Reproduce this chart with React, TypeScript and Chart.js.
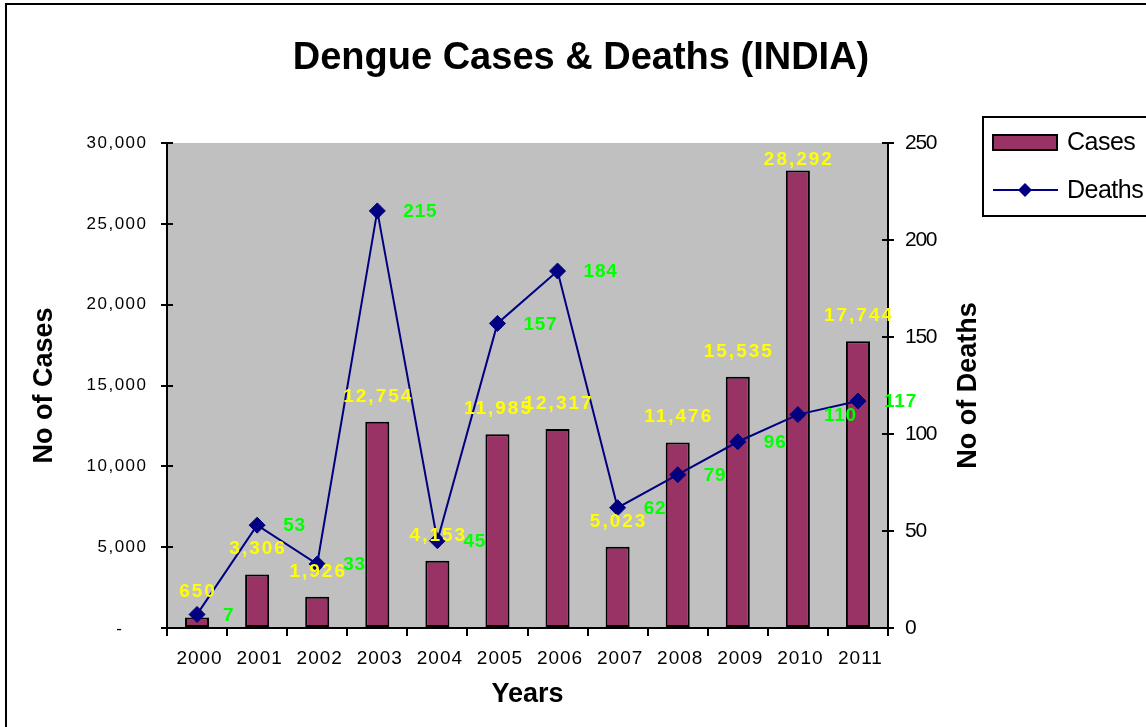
import React, { useEffect, useRef } from 'react';
import { Chart, registerables } from 'chart.js';

Chart.register(...registerables);

const years = ['2000', '2001', '2002', '2003', '2004', '2005', '2006', '2007', '2008', '2009', '2010', '2011'];
const cases = [650, 3306, 1926, 12754, 4153, 11985, 12317, 5023, 11476, 15535, 28292, 17744];
const deaths = [7, 53, 33, 215, 45, 157, 184, 62, 79, 96, 110, 117];

const casesAxis = { min: 0, max: 30000, step: 5000 };
const deathsAxis = { min: 0, max: 250, step: 50 };

const SANS = "'Liberation Sans', Arial, sans-serif";

const BAR_COLOR = '#993366';
const LINE_COLOR = '#000080';
const PLOT_BG = '#C0C0C0';

function drawText(
  ctx: CanvasRenderingContext2D,
  text: string,
  x: number,
  y: number,
  font: string,
  color: string,
  align: CanvasTextAlign,
  spacing = 0,
  baseline: CanvasTextBaseline = 'middle'
) {
  ctx.save();
  ctx.font = font;
  ctx.fillStyle = color;
  ctx.textAlign = align;
  ctx.textBaseline = baseline;
  (ctx as any).letterSpacing = spacing + 'px';
  let dx = 0;
  if (align === 'right') dx = spacing;
  else if (align === 'center') dx = spacing / 2;
  ctx.fillText(text, x + dx, y);
  ctx.restore();
}

function diamond(ctx: CanvasRenderingContext2D, x: number, y: number, r: number, color: string) {
  ctx.save();
  ctx.fillStyle = color;
  ctx.beginPath();
  ctx.moveTo(x, y - r);
  ctx.lineTo(x + r, y);
  ctx.lineTo(x, y + r);
  ctx.lineTo(x - r, y);
  ctx.closePath();
  ctx.fill();
  ctx.restore();
}

const backgroundPlugin = {
  id: 'plotBackground',
  beforeDraw(chart: any) {
    const { ctx, chartArea, width, height } = chart;
    ctx.save();
    ctx.fillStyle = '#ffffff';
    ctx.fillRect(0, 0, width, height);
    ctx.fillStyle = PLOT_BG;
    ctx.fillRect(chartArea.left, chartArea.top, chartArea.right - chartArea.left, chartArea.bottom - chartArea.top);
    ctx.restore();
  },
};

const fmt = (v: number) => v.toLocaleString('en-US');

const textPlugin = {
  id: 'customText',
  afterDraw(chart: any) {
    const { ctx, chartArea, scales } = chart;
    const ys = scales.y;
    const y1 = scales.y1;
    const xs = scales.x;

    // inner halves of the crossing tick marks
    ctx.save();
    ctx.strokeStyle = '#000';
    ctx.lineWidth = 2;
    ys.ticks.forEach((_t: any, i: number) => {
      const py = Math.round(ys.getPixelForTick(i));
      ctx.beginPath();
      ctx.moveTo(chartArea.left, py);
      ctx.lineTo(chartArea.left + 6, py);
      ctx.stroke();
    });
    y1.ticks.forEach((_t: any, i: number) => {
      const py = Math.round(y1.getPixelForTick(i));
      ctx.beginPath();
      ctx.moveTo(chartArea.right - 6, py);
      ctx.lineTo(chartArea.right, py);
      ctx.stroke();
    });
    ctx.restore();

    // left tick labels
    ys.ticks.forEach((t: any, i: number) => {
      const py = ys.getPixelForTick(i);
      if (t.value === 0) {
        drawText(ctx, '-', chartArea.left - 45, py + 1, `17px ${SANS}`, '#000', 'right', 1.5);
      } else {
        drawText(ctx, fmt(t.value), chartArea.left - 21, py, `17px ${SANS}`, '#000', 'right', 1.5);
      }
    });
    // right tick labels
    y1.ticks.forEach((t: any, i: number) => {
      const py = y1.getPixelForTick(i);
      drawText(ctx, String(t.value), chartArea.right + 17, py, `21px ${SANS}`, '#000', 'left', -1.3);
    });
    // bottom tick labels
    xs.ticks.forEach((t: any, i: number) => {
      const px = xs.getPixelForTick(i);
      drawText(ctx, String(xs.getLabelForValue(t.value)), px + 2, chartArea.bottom + 31, `19px ${SANS}`, '#000', 'center', 1);
    });

    // right axis title (reads bottom to top)
    ctx.save();
    ctx.translate(969, (chartArea.top + chartArea.bottom) / 2);
    ctx.rotate(-Math.PI / 2);
    drawText(ctx, 'No of Deaths', 0, 0, `bold 27px ${SANS}`, '#000', 'center', 0);
    ctx.restore();

    // data labels
    const barMeta = chart.getDatasetMeta(1);
    barMeta.data.forEach((el: any, i: number) => {
      const ly = Math.max(el.y - 25.5, chartArea.top + 17);
      drawText(ctx, fmt(chart.data.datasets[1].data[i]), el.x, ly, `bold 19px ${SANS}`, '#FFFF00', 'center', 2);
    });
    const lineMeta = chart.getDatasetMeta(0);
    lineMeta.data.forEach((el: any, i: number) => {
      drawText(ctx, String(chart.data.datasets[0].data[i]), el.x + 26, el.y + 1, `bold 19px ${SANS}`, '#00FF00', 'left', 0.8);
    });

    // legend
    const barDs = chart.data.datasets[1];
    const lineDs = chart.data.datasets[0];
    const lx = 983;
    const ly = 117;
    ctx.save();
    ctx.fillStyle = '#fff';
    ctx.fillRect(lx, ly, 240, 99);
    ctx.strokeStyle = '#000';
    ctx.lineWidth = 2;
    ctx.strokeRect(lx, ly, 240, 99);
    ctx.fillStyle = barDs.backgroundColor;
    ctx.fillRect(lx + 10, ly + 18, 64, 15);
    ctx.lineWidth = 2;
    ctx.strokeRect(lx + 10, ly + 18, 64, 15);
    ctx.strokeStyle = lineDs.borderColor;
    ctx.beginPath();
    ctx.moveTo(lx + 10, ly + 73);
    ctx.lineTo(lx + 75, ly + 73);
    ctx.stroke();
    ctx.restore();
    diamond(ctx, lx + 42, ly + 73, 7, lineDs.borderColor);
    drawText(ctx, barDs.label, lx + 84, ly + 26, `25px ${SANS}`, '#000', 'left', -0.5);
    drawText(ctx, lineDs.label, lx + 84, ly + 74, `25px ${SANS}`, '#000', 'left', -0.5);
  },
};

export default function App() {
  const canvasRef = useRef<HTMLCanvasElement | null>(null);

  useEffect(() => {
    const canvas = canvasRef.current;
    if (!canvas) return;
    const gridOpts = (len: number) => ({
      display: true,
      drawOnChartArea: false,
      drawTicks: true,
      tickLength: len,
      color: '#000',
      lineWidth: 2,
    });
    const border = { display: true, color: '#000', width: 2 };
    const chart = new Chart(canvas, {
      type: 'bar',
      data: {
        labels: years,
        datasets: [
          {
            type: 'line',
            label: 'Deaths',
            data: deaths,
            yAxisID: 'y1',
            borderColor: LINE_COLOR,
            backgroundColor: LINE_COLOR,
            borderWidth: 2,
            pointStyle: 'rectRot',
            pointRadius: 8,
            pointBackgroundColor: LINE_COLOR,
            pointBorderColor: LINE_COLOR,
            pointBorderWidth: 1,
            tension: 0,
            fill: false,
            order: 0,
          } as any,
          {
            type: 'bar',
            label: 'Cases',
            data: cases,
            yAxisID: 'y',
            backgroundColor: BAR_COLOR,
            borderColor: '#000',
            borderWidth: 2,
            borderSkipped: false,
            barPercentage: 0.4,
            categoryPercentage: 1,
            order: 1,
          } as any,
        ],
      },
      options: {
        animation: false,
        responsive: false,
        layout: { padding: 0 },
        plugins: {
          legend: { display: false },
          tooltip: { enabled: false },
          title: {
            display: true,
            text: 'Dengue Cases & Deaths (INDIA)',
            color: '#000',
            font: { family: SANS, size: 38, weight: 'bold' },
            padding: { top: 36, bottom: 61.4 },
          },
        },
        scales: {
          x: {
            type: 'category',
            offset: true,
            grid: { ...gridOpts(8), offset: true },
            border,
            ticks: { display: false, autoSkip: false, maxRotation: 0 },
            title: {
              display: true,
              text: 'Years',
              color: '#000',
              font: { family: SANS, size: 27, weight: 'bold' },
              padding: { top: 0, bottom: 15.8 },
            },
            afterFit: (s: any) => {
              s.height = 99;
            },
          },
          y: {
            type: 'linear',
            position: 'left',
            min: casesAxis.min,
            max: casesAxis.max,
            ticks: { display: false, stepSize: casesAxis.step },
            grid: gridOpts(6),
            border,
            title: {
              display: true,
              text: 'No of Cases',
              color: '#000',
              font: { family: SANS, size: 27, weight: 'bold' },
              padding: { top: 28.8, bottom: 0 },
            },
            afterFit: (s: any) => {
              s.width = 167;
            },
          },
          y1: {
            type: 'linear',
            position: 'right',
            min: deathsAxis.min,
            max: deathsAxis.max,
            ticks: { display: false, stepSize: deathsAxis.step },
            grid: gridOpts(6),
            border,
            afterFit: (s: any) => {
              s.width = 274;
            },
          },
        },
      } as any,
      plugins: [backgroundPlugin, textPlugin],
    });
    return () => chart.destroy();
  }, []);

  return (
    <div style={{ position: 'fixed', left: 0, top: 0, width: 1146, height: 727, overflow: 'hidden', background: '#fff' }}>
      <canvas ref={canvasRef} width={1162} height={727} style={{ display: 'block' }} />
      <div
        style={{
          position: 'absolute',
          left: 5,
          top: 3,
          width: 1300,
          height: 900,
          borderLeft: '2px solid #000',
          borderTop: '2px solid #000',
          pointerEvents: 'none',
        }}
      />
    </div>
  );
}
